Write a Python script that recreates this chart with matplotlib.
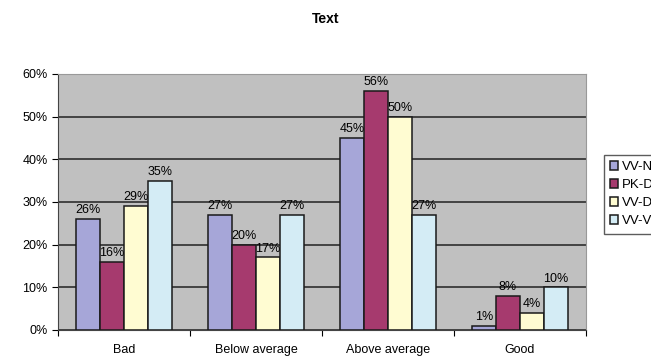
import numpy as np
import matplotlib
matplotlib.use("Agg")
import matplotlib.pyplot as plt

categories = ["Bad", "Below average", "Above average", "Good"]
series_names = ["VV-N", "PK-D", "VV-D", "VV-V"]
vv_n = [26, 27, 45, 1]
pk_d = [16, 20, 56, 8]
vv_d = [29, 17, 50, 4]
vv_v = [35, 27, 27, 10]
colors = ["#A6A6D8", "#A63A6E", "#FFFCD2", "#D4ECF5"]

plt.rcParams['font.family'] = ['Liberation Sans', 'DejaVu Sans']

fig = plt.figure(figsize=(6.51, 3.58), dpi=100)
ax = fig.add_axes([58 / 651, 28 / 358, 528 / 651, 256 / 358])
ax.set_facecolor("#C0C0C0")

x = np.arange(len(categories))
width = 0.182
all_series = [vv_n, pk_d, vv_d, vv_v]
for i, (vals, name) in enumerate(zip(all_series, series_names)):
    pos = x + (i - 1.5) * width
    bars = ax.bar(pos, vals, width, color=colors[i], edgecolor="#1a1a1a",
                  linewidth=1.1, label=name, zorder=3)
    for b, v in zip(bars, vals):
        ax.annotate(f"{v}%", (b.get_x() + b.get_width() / 2, v),
                    xytext=(0, 2), textcoords="offset points",
                    ha="center", va="bottom", fontsize=9, zorder=4)

ax.set_xlim(-0.5, 3.5)
ax.set_ylim(0, 60)
ax.set_yticks(range(0, 61, 10))
ax.set_yticklabels([f"{t}%" for t in range(0, 61, 10)], fontsize=9)
ax.yaxis.grid(True, color="#222222", linewidth=1.1, zorder=0)
ax.set_axisbelow(True)

ax.set_xticks(np.arange(-0.5, 4, 1))
ax.set_xticklabels([])
ax.set_xticks(x, minor=True)
ax.set_xticklabels(categories, minor=True, fontsize=9)
ax.tick_params(axis="x", which="minor", length=0, pad=10)
ax.tick_params(axis="x", which="major", length=4, direction="out")
ax.tick_params(axis="y", length=4, direction="out")

for s in ["top", "right"]:
    ax.spines[s].set_color("#999999")
ax.spines["left"].set_color("#444444")
ax.spines["bottom"].set_color("#444444")

fig.text(0.5, 1 - 19 / 358, "Text", ha="center", va="center",
         fontsize=10, fontweight="bold")

leg = fig.legend(loc="upper left", bbox_to_anchor=(597 / 651, 1 - 148 / 358),
                 fontsize=9.5, frameon=True, fancybox=False, edgecolor="#333333",
                 handlelength=0.6, handleheight=0.6, handletextpad=0.3,
                 labelspacing=0.45, borderpad=0.5)

fig.savefig("out.png", dpi=100)
